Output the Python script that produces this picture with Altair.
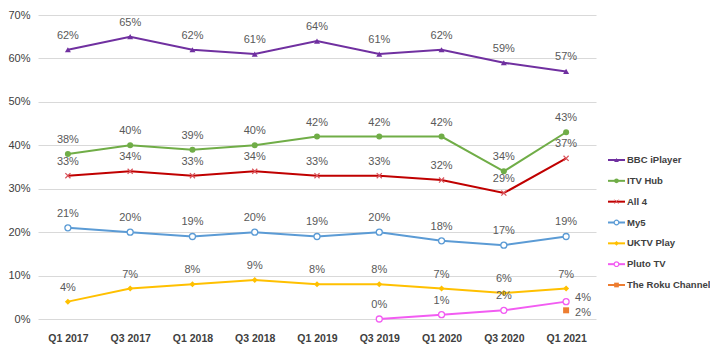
import altair as alt
import pandas as pd

quarters = ["Q1 2017", "Q3 2017", "Q1 2018", "Q3 2018", "Q1 2019",
            "Q3 2019", "Q1 2020", "Q3 2020", "Q1 2021"]
series = ["BBC iPlayer", "ITV Hub", "All 4", "My5", "UKTV Play",
          "Pluto TV", "The Roku Channel"]

bbc = [62, 65, 62, 61, 64, 61, 62, 59, 57]
itv = [38, 40, 39, 40, 42, 42, 42, 34, 43]
all4 = [33, 34, 33, 34, 33, 33, 32, 29, 37]
my5 = [21, 20, 19, 20, 19, 20, 18, 17, 19]
uktv = [4, 7, 8, 9, 8, 8, 7, 6, 7]
pluto = [None, None, None, None, None, 0, 1, 2, 4]
roku = [None, None, None, None, None, None, None, None, 2]

colors = ["#7030A0", "#70AD47", "#C00000", "#5B9BD5", "#FFC000", "#F25CF2", "#ED7D31"]
shapes = ["triangle-up", "circle", "M-1,-1L1,1M-1,1L1,-1", "circle", "diamond", "circle", "square"]
filled_series = ["BBC iPlayer", "ITV Hub", "UKTV Play", "The Roku Channel"]
open_series = ["My5", "Pluto TV"]
cross_series = ["All 4"]

FONT = "Liberation Sans, Arial, sans-serif"

rows = []
for name, vals in zip(series, [bbc, itv, all4, my5, uktv, pluto, roku]):
    for q, v in zip(quarters, vals):
        if v is not None:
            rows.append({"series": name, "quarter": q, "value": v})
df = pd.DataFrame(rows)
legend_df = pd.DataFrame({"series": series})

color = alt.Color("series:N", scale=alt.Scale(domain=series, range=colors), legend=None)
shape = alt.Shape("series:N", scale=alt.Scale(domain=series, range=shapes), legend=None)

x = alt.X("quarter:N", sort=quarters,
          scale=alt.Scale(type="point", domain=quarters, padding=0.48),
          axis=alt.Axis(title=None, labelAngle=0, domain=False, ticks=False,
                        labelPadding=14, labelFontWeight="bold", labelFontSize=10.5,
                        labelColor="#404040", labelFont=FONT, grid=False))
y = alt.Y("value:Q", scale=alt.Scale(domain=[0, 70], nice=False),
          axis=alt.Axis(title=None, values=[0, 10, 20, 30, 40, 50, 60, 70],
                        labelExpr="datum.value + '%'", domain=False, ticks=False,
                        labelPadding=8, labelFontSize=11, labelColor="#404040",
                        labelFont=FONT, gridColor="#D9D9D9", gridWidth=1))

base = alt.Chart(df)

lines = base.mark_line(strokeWidth=2).encode(x=x, y=y, color=color, detail="series:N")

pts_filled = base.mark_point(filled=True, size=36, opacity=1).encode(
    x=x, y=y, color=color, shape=shape
).transform_filter(alt.FieldOneOfPredicate(field="series", oneOf=filled_series))

pts_open = base.mark_point(filled=False, fill="white", size=36, strokeWidth=1.3, opacity=1).encode(
    x=x, y=y, color=color, shape=shape
).transform_filter(alt.FieldOneOfPredicate(field="series", oneOf=open_series))

pts_cross = base.mark_point(filled=False, size=26, strokeWidth=1.2, opacity=1).encode(
    x=x, y=y, color=alt.value("#D9545C"), shape=shape
).transform_filter(alt.FieldOneOfPredicate(field="series", oneOf=cross_series))

pluto_right = "(datum.series == 'Pluto TV' && datum.quarter == 'Q1 2021')"
roku_right = "datum.series == 'The Roku Channel'"

labels_above = base.mark_text(dy=-14, fontSize=11, color="#595959", font=FONT).encode(
    x=x, y=y, text=alt.Text("label:N")
).transform_calculate(label="datum.value + '%'").transform_filter(
    "!(" + pluto_right + " || " + roku_right + ")")

labels_pluto = base.mark_text(dx=9, dy=-4, align="left", fontSize=11, color="#595959", font=FONT).encode(
    x=x, y=y, text=alt.Text("label:N")
).transform_calculate(label="datum.value + '%'").transform_filter(pluto_right)

labels_roku = base.mark_text(dx=9, dy=3, align="left", fontSize=11, color="#595959", font=FONT).encode(
    x=x, y=y, text=alt.Text("label:N")
).transform_calculate(label="datum.value + '%'").transform_filter(roku_right)

main = alt.layer(lines, pts_filled, pts_open, pts_cross, labels_above, labels_pluto, labels_roku)

ly = alt.Y("series:N", scale=alt.Scale(type="point", domain=series, range=[145, 270], padding=0), axis=None)
lbase = alt.Chart(legend_df)
leg_rule = lbase.mark_rule(strokeWidth=2).encode(
    x=alt.value(570), x2=alt.value(587), y=ly, color=color)
leg_pf = lbase.mark_point(filled=True, size=22, opacity=1).encode(
    x=alt.value(578.5), y=ly, color=color, shape=shape
).transform_filter(alt.FieldOneOfPredicate(field="series", oneOf=filled_series))
leg_po = lbase.mark_point(filled=False, fill="white", size=22, strokeWidth=1.2, opacity=1).encode(
    x=alt.value(578.5), y=ly, color=color, shape=shape
).transform_filter(alt.FieldOneOfPredicate(field="series", oneOf=open_series))
leg_pc = lbase.mark_point(filled=False, size=16, strokeWidth=1.0, opacity=1).encode(
    x=alt.value(578.5), y=ly, color=alt.value("#D9545C"), shape=shape
).transform_filter(alt.FieldOneOfPredicate(field="series", oneOf=cross_series))
leg_text = lbase.mark_text(align="left", baseline="middle", fontSize=9.5, fontWeight="bold",
                           color="#404040", font=FONT).encode(
    x=alt.value(589), y=ly, text="series:N")

legend = alt.layer(leg_rule, leg_pf, leg_po, leg_pc, leg_text)

chart = alt.layer(main, legend).resolve_scale(y="independent").properties(
    width=558, height=304,
    autosize=alt.AutoSizeParams(type="none"),
    padding={"left": 30, "top": 7, "right": 114, "bottom": 28},
    background="white"
).configure_view(stroke=None)

chart.save("out.html", embed_options={"renderer": "svg", "actions": False})
